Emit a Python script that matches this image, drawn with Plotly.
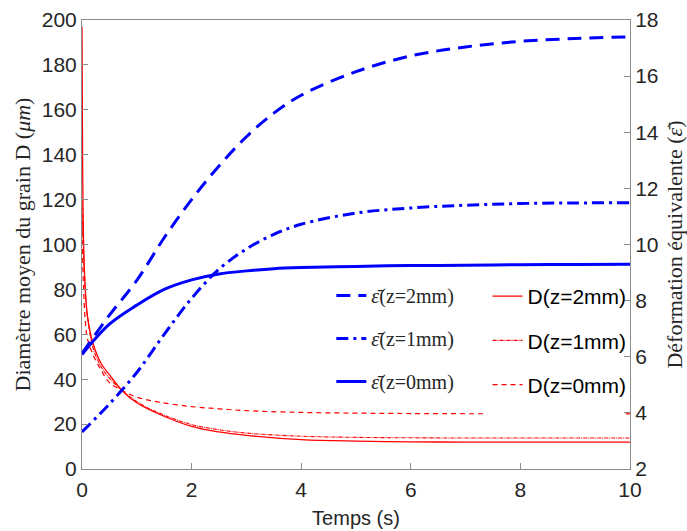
import plotly.graph_objects as go

# ---- data ----
t_eps = [0, 0.5, 1, 1.5, 2, 2.5, 3, 3.5, 4, 5, 6, 7, 8, 9, 10]
eps_2mm = [6.12, 7.48, 8.72, 10.24, 11.60, 12.80, 13.84, 14.68, 15.32, 16.16, 16.72, 17.04, 17.24, 17.34, 17.40]
eps_1mm = [3.32, 4.32, 5.44, 6.80, 8.08, 9.12, 9.84, 10.36, 10.72, 11.12, 11.30, 11.40, 11.46, 11.48, 11.49]
eps_0mm = [6.08, 7.16, 7.84, 8.40, 8.74, 8.95, 9.06, 9.14, 9.18, 9.22, 9.25, 9.26, 9.28, 9.29, 9.30]

t_D = [0, 0.01, 0.03, 0.06, 0.1, 0.2, 0.35, 0.5, 0.73, 1.0, 1.4, 2.0, 2.5, 3.0, 4.0, 5.0, 6.0, 7.0, 8.0, 9.0, 10.0]
D_2mm = [197, 140, 100, 80, 68, 56, 47, 42, 35, 29.5, 24.5, 19, 16.5, 15, 13.1, 12.4, 12.1, 12, 12, 12, 12]
D_1mm = [120, 110, 95, 80, 68, 54, 45.5, 40.5, 35, 30, 25, 19.8, 17.5, 16, 14.6, 14.1, 13.9, 13.8, 13.8, 13.8, 13.8]

t_D0 = [0, 0.01, 0.03, 0.06, 0.1, 0.2, 0.35, 0.5, 0.73, 1.0, 1.4, 2.0, 2.5, 3.0, 4.0, 5.0, 6.0, 7.4, 8.5, 9.92, 10.0]
D_0mm = [110, 95, 80, 66, 58, 51, 44, 38.5, 35, 32, 29.8, 27.8, 26.8, 26, 25.2, 24.9, 24.7, 24.6, None, 24.6, 24.6]

x_ticks = [0, 2, 4, 6, 8, 10]
yL_ticks = list(range(0, 201, 20))
yR_ticks = list(range(2, 19, 2))

BLUE = "#0000ff"
RED = "#ff0000"
AX = "#8c8c8c"
TXT = "#262626"
SANS = "Liberation Sans, Arial, sans-serif"
SERIF = "Liberation Serif, Times New Roman, serif"

fig = go.Figure()

# strain curves (right axis)
fig.add_trace(go.Scatter(x=t_eps, y=eps_2mm, yaxis="y2", mode="lines", line_shape="spline",
                         line=dict(color=BLUE, width=3, dash="14px,8px"),
                         name="<i>ε̄</i>(z=2mm)", legend="legend", legendgroup="e2"))
fig.add_trace(go.Scatter(x=t_eps, y=eps_1mm, yaxis="y2", mode="lines", line_shape="spline",
                         line=dict(color=BLUE, width=3, dash="12px,5px,3px,5px"),
                         name="<i>ε̄</i>(z=1mm)", legend="legend", legendgroup="e1"))
fig.add_trace(go.Scatter(x=t_eps, y=eps_0mm, yaxis="y2", mode="lines", line_shape="spline",
                         line=dict(color=BLUE, width=3),
                         name="<i>ε̄</i>(z=0mm)", legend="legend", legendgroup="e0"))

# grain size curves (left axis)
fig.add_trace(go.Scatter(x=t_D, y=D_2mm, mode="lines", line_shape="spline",
                         line=dict(color=RED, width=1.3),
                         name="D(z=2mm)", legend="legend2", legendgroup="d2"))
fig.add_trace(go.Scatter(x=t_D, y=D_1mm, mode="lines", line_shape="spline",
                         line=dict(color=RED, width=1.1, dash="4px,1px,1px,1px"),
                         name="D(z=1mm)", legend="legend2", legendgroup="d1"))
fig.add_trace(go.Scatter(x=t_D0, y=D_0mm, mode="lines", line_shape="spline",
                         line=dict(color=RED, width=1.2, dash="5px,4px"),
                         name="D(z=0mm)", legend="legend2", legendgroup="d0"))

fig.update_layout(
    width=687, height=531,
    margin=dict(l=82, r=57, t=20, b=62, autoexpand=False),
    paper_bgcolor="white", plot_bgcolor="white",
    font=dict(family=SANS, size=21, color=TXT),
    xaxis=dict(range=[0, 10], tickvals=x_ticks, ticks="inside", ticklen=6, tickcolor=AX,
               showline=True, linecolor=AX, linewidth=1, mirror=True, showgrid=False, zeroline=False,
               tickfont=dict(family=SANS, size=21, color=TXT), ticklabelstandoff=2,
               title=dict(text="Temps (s)", font=dict(family=SANS, size=20, color=TXT), standoff=10)),
    yaxis=dict(range=[0, 200], tickvals=yL_ticks, ticks="inside", ticklen=6, tickcolor=AX,
               showline=True, linecolor=AX, linewidth=1, showgrid=False, zeroline=False,
               tickfont=dict(family=SANS, size=21, color=TXT),
               title=dict(text="Diamètre moyen du grain D (<i>μm</i>)",
                          font=dict(family=SERIF, size=22, color=TXT), standoff=5)),
    yaxis2=dict(range=[2, 18], tickvals=yR_ticks, ticks="inside", ticklen=6, tickcolor=AX,
                overlaying="y", side="right", anchor="x",
                showline=True, linecolor=AX, linewidth=1, showgrid=False, zeroline=False,
                tickfont=dict(family=SANS, size=21, color=TXT),
                title=dict(text="Déformation équivalente (<i>ε̄</i>)",
                           font=dict(family=SERIF, size=22, color=TXT), standoff=8)),
    legend=dict(x=0.455, y=0.43, xanchor="left", yanchor="top", bgcolor="rgba(0,0,0,0)",
                traceorder="grouped", tracegroupgap=14, itemwidth=30,
                font=dict(family=SERIF, size=20, color=TXT)),
    legend2=dict(x=0.74, y=0.43, xanchor="left", yanchor="top", bgcolor="rgba(0,0,0,0)",
                 traceorder="grouped", tracegroupgap=14, itemwidth=30,
                 font=dict(family=SANS, size=21, color="black")),
)

fig.write_html("out.html", post_script="document.body.style.margin='0';",
               config={"displayModeBar": False})
